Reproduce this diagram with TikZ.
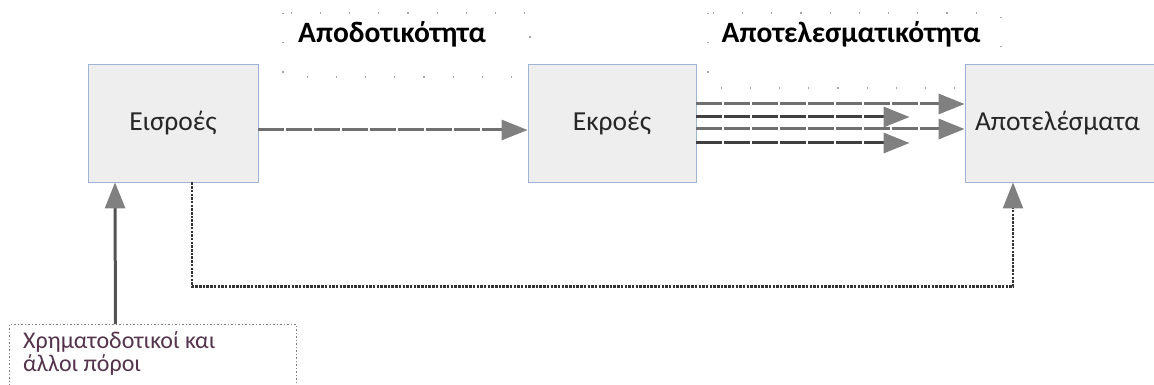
\documentclass[tikz,border=0pt]{standalone}
\usepackage{fontspec}
\setmainfont{Carlito}
\usetikzlibrary{arrows.meta}
\definecolor{boxfill}{RGB}{238,238,238}
\definecolor{boxline}{RGB}{160,180,212}
\definecolor{midgray}{RGB}{112,112,112}
\definecolor{darkgray2}{RGB}{64,64,64}
\definecolor{headgray}{RGB}{128,128,128}
\definecolor{srctext}{RGB}{84,52,76}
\definecolor{lbltext}{RGB}{38,38,38}
\tikzset{
  stage/.style={draw=boxline, line width=0.8pt, fill=boxfill, minimum height=118pt, inner sep=0pt,
    font=\fontsize{27.5}{30}\selectfont, text=lbltext},
  title/.style={font=\bfseries\fontsize{29.5}{32}\selectfont, inner sep=0pt, anchor=base},
  sparsedots/.style={draw=gray!70, line width=1.2pt, dash pattern=on 1.2pt off 28pt},
  tip/.style={-{Triangle[length=26pt,width=20pt,fill=headgray,color=headgray]}},
  flowA/.style={tip, draw=midgray, line width=3pt, dash pattern=on 26pt off 2pt},
  flowB/.style={tip, draw=darkgray2, line width=3pt, dash pattern=on 26pt off 2pt},
  feedback/.style={tip, draw=black!80, line width=2.2pt, dash pattern=on 2.5pt off 1.2pt},
  srcbox/.style={draw=gray, line width=0.9pt, dash pattern=on 1.5pt off 2pt, minimum width=287pt, minimum height=80pt,
    inner sep=0pt},
}
\begin{document}
\begin{tikzpicture}[x=1pt,y=-1pt]
\useasboundingbox (0,0) rectangle (1154,385);
\clip (0,0) rectangle (1154,385);
% title frames
\draw[sparsedots] (283,13) rectangle (530,77);
\draw[sparsedots] (708,13) rectangle (1001,88);
\node[title] (t1) at (392,43) {Αποδοτικότητα};
\node[title] (t2) at (851,43) {Αποτελεσματικότητα};
% stages
\node[stage, minimum width=170pt] (in) at (173,123) {Εισροές};
\node[stage, minimum width=168pt] (out) at (612,123) {Εκροές};
\node[stage, minimum width=195pt] (res) at (1062.5,123) {\hspace*{-10pt}Αποτελέσματα};
% source
\node[srcbox, anchor=north west] (src) at (9,324) {};
\node[anchor=north west, inner sep=0pt, font=\fontsize{24}{23}\selectfont, text=srctext, align=left] (srct) at (23,331) {Χρηματοδοτικοί και\\άλλοι πόροι};
% connectors
\draw[flowA] ([yshift=-7pt]in.east) -- ([yshift=-7pt]out.west);
\draw[flowA] ([yshift=19pt]out.east) -- ([yshift=19pt]res.west);
\draw[flowB] ([yshift=6pt]out.east) -- ([yshift=6pt,xshift=-55pt]res.west);
\draw[flowA] ([yshift=-6pt]out.east) -- ([yshift=-6pt]res.west);
\draw[flowB] ([yshift=-20pt]out.east) -- ([yshift=-20pt,xshift=-55pt]res.west);
\draw[tip, draw=darkgray2!90, line width=3pt] ([xshift=-37.5pt]src.north) -- ([xshift=-58pt]in.south);
\draw[feedback] ([xshift=19pt]in.south) -- ++(0,104) -| ([xshift=-49.5pt]res.south);
\end{tikzpicture}
\end{document}
